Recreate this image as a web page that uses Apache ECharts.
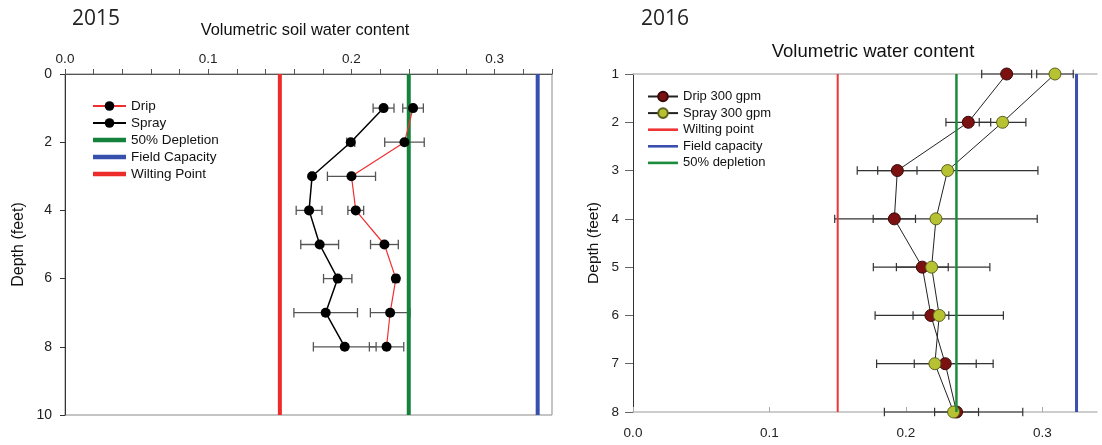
<!DOCTYPE html>
<html>
<head>
<meta charset="utf-8">
<script src="https://cdn.jsdelivr.net/npm/echarts@6/dist/echarts.min.js"></script>
<style>
html,body{margin:0;padding:0;background:#fff;}
#c{width:1102px;height:445px;}
</style>
</head>
<body>
<div id="c"></div>
<script>
// ---- 2015 data ----
const depths2015 = [1, 2, 3, 4, 5, 6, 7, 8];
const drip2015 = [0.243, 0.237, 0.200, 0.203, 0.223, 0.231, 0.227, 0.2245];
const drip2015Err = [0.0072, 0.0138, 0.0168, 0.0055, 0.0097, 0.002, 0.0138, 0.012];
const spray2015 = [0.2224, 0.1995, 0.1725, 0.1704, 0.1778, 0.1904, 0.182, 0.1953];
const spray2015Err = [0.0073, 0.0028, 0.001, 0.009, 0.0132, 0.0099, 0.0222, 0.0219];
const ref2015 = { depletion: 0.24, field: 0.33, wilting: 0.15 };
const yRange2015 = [0, 10];
const xTicks2015 = ['0.0', '0.1', '0.2', '0.3'];

// ---- 2016 data ----
const depths2016 = [1, 2, 3, 4, 5, 6, 7, 8];
const drip2016 = [0.2738, 0.2457, 0.1937, 0.1915, 0.212, 0.2183, 0.2288, 0.2371];
const drip2016Err = [0.0183, 0.0164, 0.0144, 0.0155, 0.019, 0.0131, 0.0227, 0.0161];
const spray2016 = [0.3092, 0.2708, 0.2305, 0.222, 0.2188, 0.2244, 0.2212, 0.2349];
const spray2016Err = [0.0134, 0.0171, 0.0662, 0.0742, 0.0427, 0.047, 0.0427, 0.0507];
const ref2016 = { wilting: 0.15, field: 0.325, depletion: 0.237 };
const yRange2016 = [1, 8];
const xTicks2016 = ['0.0', '0.1', '0.2', '0.3'];

const FONT = 'Liberation Sans, Arial, sans-serif';

function pts(xs, ys) { return xs.map((x, i) => [x, ys[i]]); }
function errPts(xs, ys, es) { return xs.map((x, i) => [x, ys[i], es[i]]); }
function vline(v, range) { return [[v, range[0]], [v, range[1]]]; }

function errRender(capH, color, width) {
  return function (params, api) {
    const x = api.value(0), y = api.value(1), e = api.value(2);
    const a = api.coord([x - e, y]), b = api.coord([x + e, y]);
    const st = { stroke: color, lineWidth: width };
    return {
      type: 'group',
      children: [
        { type: 'line', shape: { x1: a[0], y1: a[1], x2: b[0], y2: b[1] }, style: st },
        { type: 'line', shape: { x1: a[0], y1: a[1] - capH, x2: a[0], y2: a[1] + capH }, style: st },
        { type: 'line', shape: { x1: b[0], y1: b[1] - capH, x2: b[0], y2: b[1] + capH }, style: st }
      ]
    };
  };
}

const C15 = { red: '#ee2b2b', green: '#14823c', blue: '#3550ad' };
const C16 = { red: '#ef3535', green: '#1b8c3b', blue: '#3b4fb0' };
const BAR15 = 'path://M0 0H33V4.5H0Z';
const BAR16 = 'path://M0 0H30V2.6H0Z';

const chart = echarts.init(document.getElementById('c'), null, { renderer: 'canvas' });

const option = {
  animation: false,
  backgroundColor: '#fff',
  textStyle: { fontFamily: FONT },
  title: [
    { text: '2015', left: 67, top: 4, textStyle: { fontFamily: 'Open Sans', fontSize: 21, fontWeight: 'normal', color: '#222' } },
    { text: 'Volumetric soil water content', left: 300, top: 17, textAlign: 'center', textStyle: { fontFamily: FONT, fontSize: 16.4, fontWeight: 'normal', color: '#111' } },
    { text: '2016', left: 636, top: 4, textStyle: { fontFamily: 'Open Sans', fontSize: 21, fontWeight: 'normal', color: '#222' } },
    { text: 'Volumetric water content', left: 868, top: 37, textAlign: 'center', textStyle: { fontFamily: FONT, fontSize: 18.5, fontWeight: 'normal', color: '#111' } }
  ],
  legend: [
    {
      orient: 'vertical', left: 92, top: 99, padding: 0, itemWidth: 33, itemHeight: 12, itemGap: 3,
      symbolKeepAspect: true,
      textStyle: { fontFamily: FONT, fontSize: 13.5, color: '#111' },
      data: [
        { name: 'Drip' },
        { name: 'Spray' },
        { name: '50% Depletion', icon: BAR15 },
        { name: 'Field Capacity', icon: BAR15 },
        { name: 'Wilting Point', icon: BAR15 }
      ]
    },
    {
      orient: 'vertical', left: 647, top: 90, padding: 0, itemWidth: 30, itemHeight: 12, itemGap: 3.6,
      symbolKeepAspect: true,
      textStyle: { fontFamily: FONT, fontSize: 13, color: '#111' },
      data: [
        { name: 'Drip 300 gpm' },
        { name: 'Spray 300 gpm' },
        { name: 'Wilting point', icon: BAR16 },
        { name: 'Field capacity', icon: BAR16 },
        { name: '50% depletion', icon: BAR16 }
      ]
    }
  ],
  grid: [
    { left: 65, right: 550, top: 74, bottom: 30, show: true, borderColor: '#8a8a8a', borderWidth: 1, backgroundColor: 'transparent' },
    { left: 633, right: 5, top: 74, bottom: 33 }
  ],
  xAxis: [
    {
      gridIndex: 0, type: 'value', position: 'top', min: 0, max: 0.34, interval: 0.02,
      axisLine: { show: true, lineStyle: { color: '#555', width: 1 } },
      axisTick: { show: true, inside: false, length: 5, lineStyle: { color: '#555' } },
      splitLine: { show: false },
      axisLabel: {
        interval: 0, margin: 8, fontFamily: FONT, fontSize: 13.5, color: '#222',
        formatter: function (v) {
          const k = Math.round(v * 10);
          if (Math.abs(v * 10 - k) < 1e-6 && k < xTicks2015.length) return xTicks2015[k];
          return '';
        }
      }
    },
    {
      gridIndex: 1, type: 'value', position: 'bottom', min: 0, max: 0.34, interval: 0.1,
      axisLine: { show: true, lineStyle: { color: '#bdbdbd', width: 1.5 } },
      axisTick: { show: true, inside: true, length: 5, lineStyle: { color: '#aaa' }, customValues: [0, 0.1, 0.2, 0.3] },
      splitLine: { show: false },
      axisLabel: {
        margin: 14, fontFamily: FONT, fontSize: 13.5, color: '#222', showMaxLabel: true,
        customValues: [0, 0.1, 0.2, 0.3],
        formatter: function (v) { const k = Math.round(v * 10); return xTicks2016[k] !== undefined ? xTicks2016[k] : ''; }
      }
    },
    {
      gridIndex: 1, type: 'value', position: 'top', min: 0, max: 0.34,
      axisLine: { show: true, lineStyle: { color: '#bdbdbd', width: 1.5 } },
      axisTick: { show: false }, axisLabel: { show: false }, splitLine: { show: false }
    }
  ],
  yAxis: [
    {
      gridIndex: 0, type: 'value', inverse: true, min: yRange2015[0], max: yRange2015[1], interval: 2,
      name: 'Depth (feet)', nameLocation: 'middle', nameGap: 38, nameRotate: 90,
      nameTextStyle: { fontFamily: FONT, fontSize: 16, color: '#111' },
      axisLine: { show: true, lineStyle: { color: '#333', width: 1 } },
      axisTick: { show: true, length: 5, lineStyle: { color: '#333' } },
      splitLine: { show: false },
      axisLabel: { margin: 13, fontFamily: FONT, fontSize: 14, color: '#222' }
    },
    {
      gridIndex: 1, type: 'value', inverse: true, min: yRange2016[0], max: yRange2016[1], interval: 1,
      name: 'Depth (feet)', nameLocation: 'middle', nameGap: 31, nameRotate: 90,
      nameTextStyle: { fontFamily: FONT, fontSize: 15.5, color: '#111' },
      axisLine: { show: true, lineStyle: { color: '#333', width: 1 } },
      axisTick: { show: true, length: 8, lineStyle: { color: '#666' } },
      splitLine: { show: false },
      axisLabel: { margin: 14, fontFamily: FONT, fontSize: 13.5, color: '#222' }
    }
  ],
  series: [
    // ---- 2015 ----
    { type: 'custom', name: 'drip15err', xAxisIndex: 0, yAxisIndex: 0, renderItem: errRender(4.7, '#555', 1.3), encode: { x: 0, y: 1 }, data: errPts(drip2015, depths2015, drip2015Err), z: 2, silent: true },
    { type: 'custom', name: 'spray15err', xAxisIndex: 0, yAxisIndex: 0, renderItem: errRender(4.7, '#555', 1.3), encode: { x: 0, y: 1 }, data: errPts(spray2015, depths2015, spray2015Err), z: 2, silent: true },
    { type: 'line', name: '50% Depletion', xAxisIndex: 0, yAxisIndex: 0, data: vline(ref2015.depletion, yRange2015), symbol: 'none', lineStyle: { color: C15.green, width: 4 }, itemStyle: { color: C15.green }, z: 3 },
    { type: 'line', name: 'Field Capacity', xAxisIndex: 0, yAxisIndex: 0, data: vline(ref2015.field, yRange2015), symbol: 'none', lineStyle: { color: C15.blue, width: 4 }, itemStyle: { color: C15.blue }, z: 3 },
    { type: 'line', name: 'Wilting Point', xAxisIndex: 0, yAxisIndex: 0, data: vline(ref2015.wilting, yRange2015), symbol: 'none', lineStyle: { color: C15.red, width: 4 }, itemStyle: { color: C15.red }, z: 3 },
    { type: 'line', name: 'Drip', xAxisIndex: 0, yAxisIndex: 0, data: pts(drip2015, depths2015), symbol: 'circle', symbolSize: 10, lineStyle: { color: '#f03030', width: 1.2 }, itemStyle: { color: '#000', borderWidth: 0 }, z: 4 },
    { type: 'line', name: 'Spray', xAxisIndex: 0, yAxisIndex: 0, data: pts(spray2015, depths2015), symbol: 'circle', symbolSize: 10, lineStyle: { color: '#000', width: 1.5 }, itemStyle: { color: '#000', borderWidth: 0 }, z: 4 },
    // ---- 2016 ----
    { type: 'custom', name: 'drip16err', xAxisIndex: 1, yAxisIndex: 1, renderItem: errRender(4.2, '#333', 1.2), encode: { x: 0, y: 1 }, data: errPts(drip2016, depths2016, drip2016Err), z: 2, silent: true },
    { type: 'custom', name: 'spray16err', xAxisIndex: 1, yAxisIndex: 1, renderItem: errRender(4.2, '#333', 1.2), encode: { x: 0, y: 1 }, data: errPts(spray2016, depths2016, spray2016Err), z: 2, silent: true },
    { type: 'line', name: 'Drip 300 gpm', xAxisIndex: 1, yAxisIndex: 1, data: pts(drip2016, depths2016), symbol: 'circle', symbolSize: 12, lineStyle: { color: '#222', width: 1 }, itemStyle: { color: '#7b1111', borderColor: '#3a0808', borderWidth: 1 }, z: 3 },
    { type: 'line', name: 'Spray 300 gpm', xAxisIndex: 1, yAxisIndex: 1, data: pts(spray2016, depths2016), symbol: 'circle', symbolSize: 12, lineStyle: { color: '#222', width: 1 }, itemStyle: { color: '#b7c232', borderColor: '#5b611c', borderWidth: 1 }, z: 4 },
    { type: 'line', name: 'Wilting point', xAxisIndex: 1, yAxisIndex: 1, data: vline(ref2016.wilting, yRange2016), symbol: 'none', lineStyle: { color: C16.red, width: 2 }, itemStyle: { color: C16.red }, z: 5 },
    { type: 'line', name: 'Field capacity', xAxisIndex: 1, yAxisIndex: 1, data: vline(ref2016.field, yRange2016), symbol: 'none', lineStyle: { color: C16.blue, width: 3 }, itemStyle: { color: C16.blue }, z: 5 },
    { type: 'line', name: '50% depletion', xAxisIndex: 1, yAxisIndex: 1, data: vline(ref2016.depletion, yRange2016), symbol: 'none', lineStyle: { color: C16.green, width: 2.5 }, itemStyle: { color: C16.green }, z: 5 }
  ]
};
chart.setOption(option);
</script>
</body>
</html>
